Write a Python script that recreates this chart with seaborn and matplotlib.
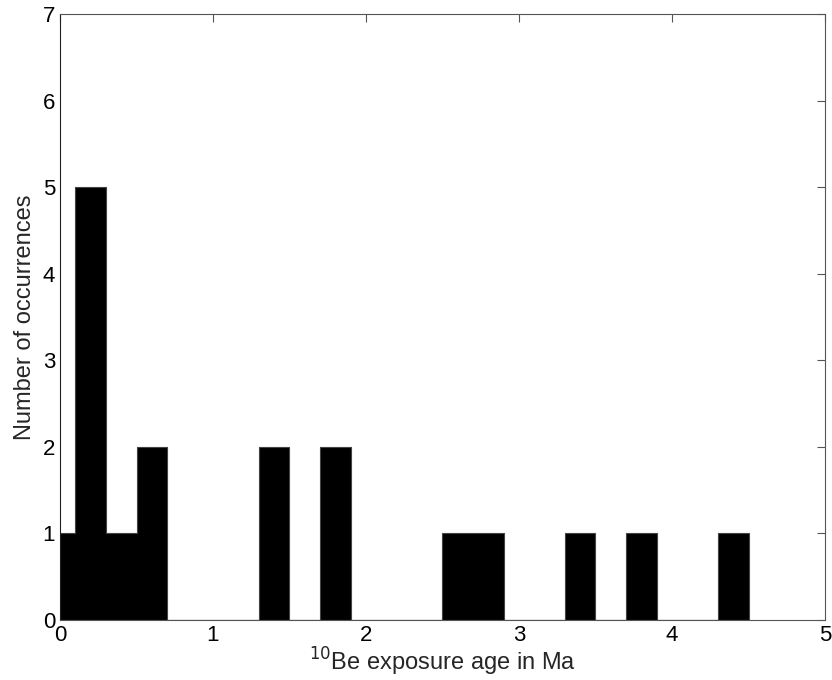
import matplotlib
matplotlib.use("Agg")
import matplotlib.pyplot as plt
import seaborn as sns
import pandas as pd

# bin centres (Ma) and counts
bin_centers = [0.0, 0.2, 0.4, 0.6, 1.4, 1.8, 2.6, 2.8, 3.4, 3.8, 4.4]
counts = [1, 5, 1, 2, 2, 2, 1, 1, 1, 1, 1]
x_ticks = [0, 1, 2, 3, 4, 5]
y_ticks = [0, 1, 2, 3, 4, 5, 6, 7]

sns.set_theme(style="white")
plt.rcParams['font.family'] = ['Liberation Sans', 'DejaVu Sans']

df = pd.DataFrame({"age": bin_centers, "n": counts})

fig = plt.figure(figsize=(8.32, 6.8), dpi=100)
ax = fig.add_axes([60/832, 60/680, 765/832, 606/680])

sns.histplot(data=df, x="age", weights="n", binwidth=0.2, binrange=(-0.1, 4.5),
             element="step", color="black", alpha=1, edgecolor="#444444",
             linewidth=0.8, ax=ax)

ax.set_xlim(0, 5)
ax.set_ylim(0, 7)
ax.set_xticks(x_ticks)
ax.set_yticks(y_ticks)
ax.tick_params(direction="in", length=6, width=0.8, colors="#555555",
               labelcolor="black", labelsize=16, top=True, right=True)
for s in ax.spines.values():
    s.set_color("#555555")
    s.set_linewidth(0.8)
ax.spines["left"].set_color("#222222")
ax.set_xlabel(r"$^{10}$Be exposure age in Ma", fontsize=17, labelpad=0)
ax.set_ylabel("Number of occurrences", fontsize=17, labelpad=5)

fig.savefig("out.png", dpi=100)
